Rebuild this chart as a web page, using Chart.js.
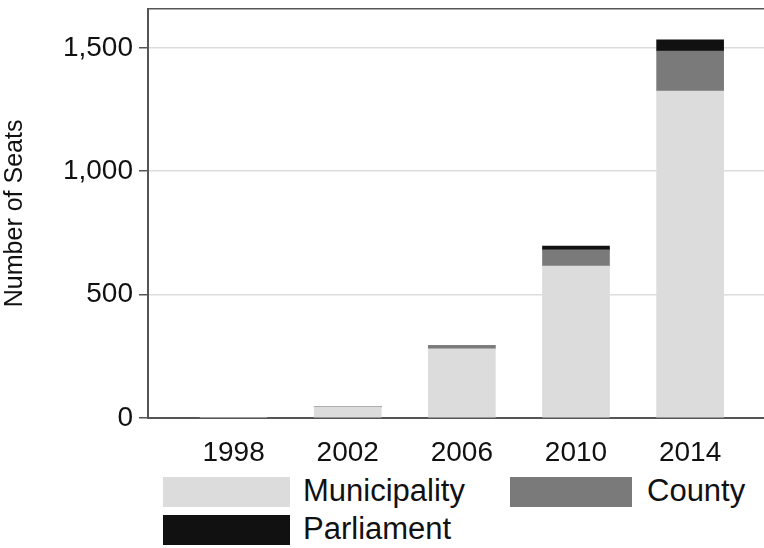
<!DOCTYPE html>
<html>
<head>
<script src="https://cdn.jsdelivr.net/npm/chart.js@4"></script>
<style>
  body { margin: 0; background: #fff; font-family: "Liberation Sans", Arial, sans-serif; overflow: hidden; }
  #wrap { position: absolute; left: 0; top: -14px; width: 780px; height: 484px; }
  .legend { position: absolute; font-size: 31px; color: #111; }
  .box { position: absolute; width: 127px; height: 30px; }
</style>
</head>
<body>
<div id="wrap"><canvas id="seatsChart" width="780" height="484"></canvas></div>
<div class="box" style="left:163px;top:477px;background:#dcdcdc"></div>
<div class="legend" style="left:303px;top:473px">Municipality</div>
<div class="box" style="left:510px;top:477px;width:122px;background:#7a7a7a"></div>
<div class="legend" style="left:647px;top:473px">County</div>
<div class="box" style="left:163px;top:515px;background:#111"></div>
<div class="legend" style="left:303px;top:511px">Parliament</div>
<script>
const years = [1998, 2002, 2006, 2010, 2014];
const municipality = [3, 45, 280, 616, 1325];
const county = [0, 0, 12, 65, 162];
const parliament = [0, 0, 0, 16, 45];
const yTicks = [0, 500, 1000, 1500];

const topBorder = {
    id: 'topBorder',
    afterDraw(chart) {
        const a = chart.chartArea, ctx = chart.ctx;
        ctx.save();
        ctx.strokeStyle = '#555';
        ctx.lineWidth = 1.5;
        ctx.beginPath();
        ctx.moveTo(a.left, a.top);
        ctx.lineTo(a.right, a.top);
        ctx.stroke();
        ctx.restore();
    }
};

function series(label, values, color) {
    return {
        label: label,
        data: years.map((y, i) => ({ x: y, y: values[i] })),
        backgroundColor: color,
        barThickness: 67,
        borderWidth: 0
    };
}

new Chart(document.getElementById('seatsChart').getContext('2d'), {
    type: 'bar',
    data: {
        datasets: [
            series('Municipality', municipality, '#dcdcdc'),
            series('County', county, '#7a7a7a'),
            series('Parliament', parliament, '#111111')
        ]
    },
    plugins: [topBorder],
    options: {
        responsive: false,
        animation: false,
        layout: { padding: { top: 8, right: 0, bottom: 0, left: 0 } },
        plugins: { legend: { display: false }, tooltip: { enabled: false } },
        scales: {
            x: {
                type: 'linear', stacked: true, offset: false, min: 1995, max: 2017.15,
                afterBuildTicks: s => { s.ticks = years.map(v => ({ value: v })); },
                afterFit: s => { s.height = 52; },
                ticks: { color: '#111', font: { size: 28 }, padding: 10, callback: v => String(v) },
                grid: { display: false },
                border: { color: '#555', width: 2 }
            },
            y: {
                stacked: true, min: 0, max: 1658,
                afterBuildTicks: s => { s.ticks = yTicks.map(v => ({ value: v })); },
                afterFit: s => { s.width = 148; },
                ticks: { color: '#111', font: { size: 28 }, padding: 6,
                    callback: v => v.toLocaleString('en-US') },
                grid: { color: v => v.tick.value === 0 ? 'transparent' : '#dddddd', lineWidth: 1.5,
                    tickColor: '#555', tickLength: 9 },
                border: { color: '#555', width: 2 },
                title: { display: true, text: 'Number of Seats', color: '#111', font: { size: 25 }, padding: 0 }
            }
        }
    }
});
</script>
</body>
</html>
